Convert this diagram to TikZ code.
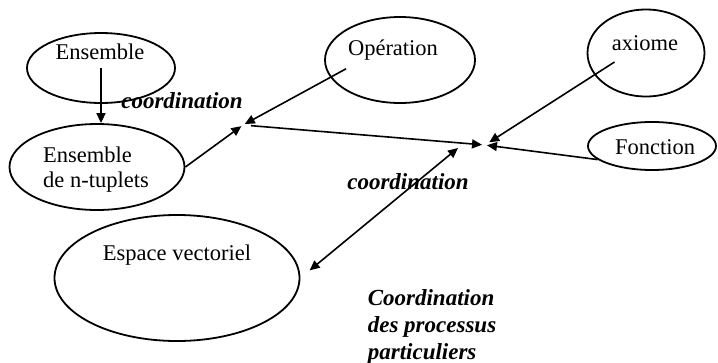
\documentclass[tikz,border=0pt]{standalone}
\usepackage{fontspec}
\setmainfont{Liberation Serif}
\usetikzlibrary{positioning}
\usetikzlibrary{arrows.meta}
\usetikzlibrary{shapes.geometric}

\begin{document}
\begin{tikzpicture}[
            x = 1pt, y = -1pt, % one unit = one pixel of the scan
            > = {Triangle[length=10pt, width=9pt]}, % arrow head style
            line width = 1.6pt % line style
        ]

        \tikzstyle{bulle}=[
            draw,
            ellipse,
            line width = 1.8pt,
            inner sep = 0pt
        ]
        \tikzstyle{mot}=[font=\fontsize{22.5}{25}\selectfont, inner sep=0pt]
        \tikzstyle{coord}=[font=\fontsize{23}{27}\selectfont\bfseries\itshape, inner sep=0pt]

        \useasboundingbox (0,0) rectangle (718,362);

        % bubbles
        \node[bulle, minimum width=148pt, minimum height=70pt] (E) at (101,68) {};
        \node[bulle, minimum width=175pt, minimum height=86pt] (T) at (97,167) {};
        \node[bulle, minimum width=150pt, minimum height=86pt] (O) at (400,60) {};
        \node[bulle, minimum width=117pt, minimum height=87pt] (A) at (646,53) {};
        \node[bulle, minimum width=128pt, minimum height=48pt] (F) at (652,146) {};
        \node[bulle, minimum width=245pt, minimum height=126pt] (V) at (177,278) {};

        % texts in the bubbles
        \node[mot] (Et) at (100,52) {Ensemble};
        \node[mot, align=left] (Tt) at (96,170) {Ensemble\\de n-tuplets};
        \node[mot] (Ot) at (393,50) {Opération};
        \node[mot] (At) at (645,43) {axiome};
        \node[mot] (Ft) at (655,147) {Fonction};
        \node[mot] (Vt) at (177,255) {Espace vectoriel};

        % meeting points
        \coordinate (j1) at (243,125);
        \coordinate (j2) at (485,145);
        \coordinate (j3) at (458,148);

        \draw[->] (E.center) -- (E.center |- T.north);
        \draw[->, shorten >=2pt] (T.east) -- (j1);
        \draw[->, shorten <=-18pt, shorten >=2pt] (O.194) -- (j1);
        \draw[->, shorten <=8pt, shorten >=3pt] (j1) -- (j2);
        \draw[->, shorten <=-24pt, shorten >=5pt] (A.203) -- (j2);
        \draw[->, shorten >=2pt] (F.194) -- (j2);
        \draw[<->, shorten <=12pt] (V.east) -- (j3);

        % labels
        \node[coord] (c1) at (182,101) {coordination};
        \node[coord] (c2) at (408,182) {coordination};
        \node[coord, align=left, anchor=north west] (cp) at (367,289) {Coordination\\des processus\\particuliers};

\end{tikzpicture}
\end{document}
